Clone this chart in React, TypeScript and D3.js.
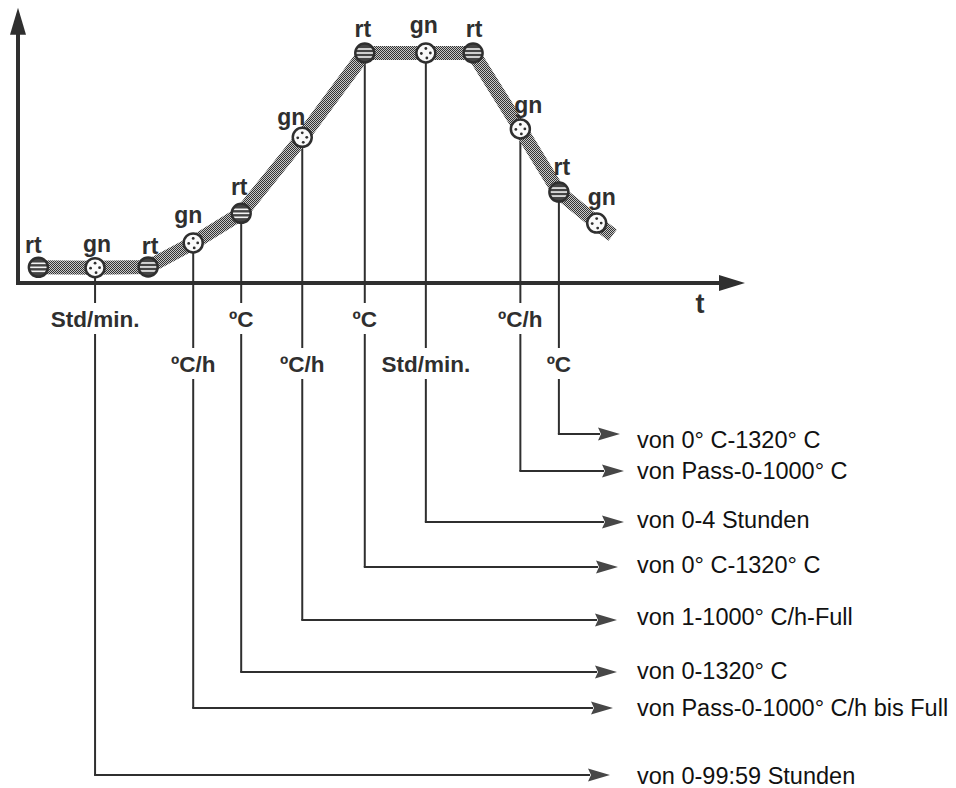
import React from "react";
import * as d3 from "d3";

// firing program steps (schematic: t in h, temperature in °C)
const stepTimes = [2.8, 10.6, 17.9, 24.1, 30.7, 39.1, 47.7, 56.1, 62.6, 69.1, 74.4, 79.6];
const stepTemps = [90, 88, 92, 230, 400, 836, 1320, 1320, 1320, 884, 522, 344];
const stepLeds = ["rt", "gn", "rt", "gn", "rt", "gn", "rt", "gn", "rt", "gn", "rt", "gn"];
const curveEndTime = 81.8;
const curveEndTemp = 275;
const timeMax = 100;
const tempMax = 1580;

// callouts: step index, unit and setting range
const calloutSteps = [1, 3, 4, 5, 6, 7, 9, 10];
const calloutUnits = ["Std/min.", "ºC/h", "ºC", "ºC/h", "ºC", "Std/min.", "ºC/h", "ºC"];
const calloutRanges = [
  "von 0-99:59 Stunden",
  "von Pass-0-1000° C/h bis Full",
  "von 0-1320° C",
  "von 1-1000° C/h-Full",
  "von 0° C-1320° C",
  "von 0-4 Stunden",
  "von Pass-0-1000° C",
  "von 0° C-1320° C",
];

// layout only
const ledDx = [-5, 2, 2, -5, -2, -11, -2, -2, 1, 8, 3, 5];
const ledDy = [-14, -16, -13, -20, -18, -12, -16, -20, -16, -16, -17, -18];
const arrowRows = [775, 708, 672, 620, 567, 522, 471, 434];
const textRows = [784, 716, 679, 625, 573, 528, 479, 448];
const arrowTips = [610, 613, 617, 617, 618, 624, 624, 620];
const unitRows = [327, 372];

const FONT = "'Liberation Sans', Arial, Helvetica, sans-serif";
const INK = "#2f2f2f";

const Marker = ({ x, y, kind }) => {
  const r = 9.5;
  if (kind === "rt") {
    return (
      <g transform={`translate(${x},${y})`}>
        <circle r={r} fill="#444" />
        {[-4, 0, 4].map((dy) => {
          const w = Math.sqrt(r * r - dy * dy) - 0.5;
          return <line key={dy} x1={-w} x2={w} y1={dy} y2={dy} stroke="#f2f2f2" strokeWidth={1.6} />;
        })}
        <circle r={r} fill="none" stroke={INK} strokeWidth={2.5} />
      </g>
    );
  }
  return (
    <g transform={`translate(${x},${y})`}>
      <circle r={r} fill="#fafafa" stroke={INK} strokeWidth={2.5} />
      {[[0, -4.5], [-4.5, 0.5], [4.5, 0], [1, 5]].map(([dx, dy], i) => (
        <circle key={i} cx={dx} cy={dy} r={1.4} fill={INK} />
      ))}
    </g>
  );
};

export default function App() {
  const width = 956;
  const height = 788;

  const x = d3.scaleLinear().domain([0, timeMax]).range([18, 745]);
  const y = d3.scaleLinear().domain([0, 1320]).range([283, 53]);

  const curvePts = stepTimes
    .map((t, i) => [t, stepTemps[i]])
    .concat([[curveEndTime, curveEndTemp]]);
  const band = d3
    .line()
    .x((d) => x(d[0]))
    .y((d) => y(d[1]))
    .curve(d3.curveLinear)(curvePts);

  const x0 = x(0);
  const y0 = y(0);
  const xTip = x(timeMax);
  const yTip = y(tempMax);

  const callouts = calloutSteps.map((s, i) => {
    const cx = x(stepTimes[s]);
    const cy = y(stepTemps[s]);
    const base = unitRows[i % 2];
    const row = arrowRows[i];
    const tip = arrowTips[i];
    const head = 22;
    return (
      <g key={i}>
        <line x1={cx} x2={cx} y1={cy + 9} y2={base - 24} stroke={INK} strokeWidth={2} />
        <line x1={cx} x2={cx} y1={base + 7} y2={row} stroke={INK} strokeWidth={2} />
        <line x1={cx - 1} x2={tip - head + 2} y1={row} y2={row} stroke={INK} strokeWidth={2} />
        <path
          d={`M${tip},${row} L${tip - head},${row - 6.5} L${tip - head + 3},${row} L${tip - head},${row + 6.5} Z`}
          fill="#474747"
        />
        <text
          x={cx}
          y={base}
          textAnchor="middle"
          fontFamily={FONT}
          fontWeight="bold"
          fontSize={22.5}
          fill={INK}
        >
          {calloutUnits[i]}
        </text>
        <text x={637} y={textRows[i]} fontFamily={FONT} fontSize={23.5} fill="#111">
          {calloutRanges[i]}
        </text>
      </g>
    );
  });

  return (
    <svg
      width={width}
      height={height}
      viewBox={`0 0 ${width} ${height}`}
      style={{ position: "absolute", left: 0, top: 0, background: "#fff" }}
    >
      <defs>
        <pattern id="stipple" width={2} height={2} patternUnits="userSpaceOnUse">
          <rect width={2} height={2} fill="#c8c8c8" />
          <rect width={1} height={1} fill="#333" />
          <rect x={1} y={1} width={1} height={1} fill="#333" />
        </pattern>
      </defs>

      {/* axes */}
      <line x1={x0} x2={xTip - 22} y1={y0} y2={y0} stroke={INK} strokeWidth={4} />
      <path d={`M${xTip},${y0} L${xTip - 26},${y0 - 8} L${xTip - 26},${y0 + 8} Z`} fill={INK} />
      <line x1={x0} x2={x0} y1={y0 + 2} y2={yTip + 22} stroke={INK} strokeWidth={4} />
      <path d={`M${x0},${yTip} L${x0 - 8},${yTip + 27} L${x0 + 8},${yTip + 27} Z`} fill={INK} />
      <text x={700} y={313} textAnchor="middle" fontFamily={FONT} fontWeight="bold" fontSize={27} fill={INK}>
        t
      </text>

      {callouts}

      {/* firing curve */}
      <path d={band} fill="none" stroke="url(#stipple)" strokeWidth={14} strokeLinejoin="round" />

      {stepTimes.map((t, i) => (
        <g key={i}>
          <Marker x={x(t)} y={y(stepTemps[i])} kind={stepLeds[i]} />
          <text
            x={x(t) + ledDx[i]}
            y={y(stepTemps[i]) + ledDy[i]}
            textAnchor="middle"
            fontFamily={FONT}
            fontWeight="bold"
            fontSize={23}
            fill={INK}
          >
            {stepLeds[i]}
          </text>
        </g>
      ))}
    </svg>
  );
}
